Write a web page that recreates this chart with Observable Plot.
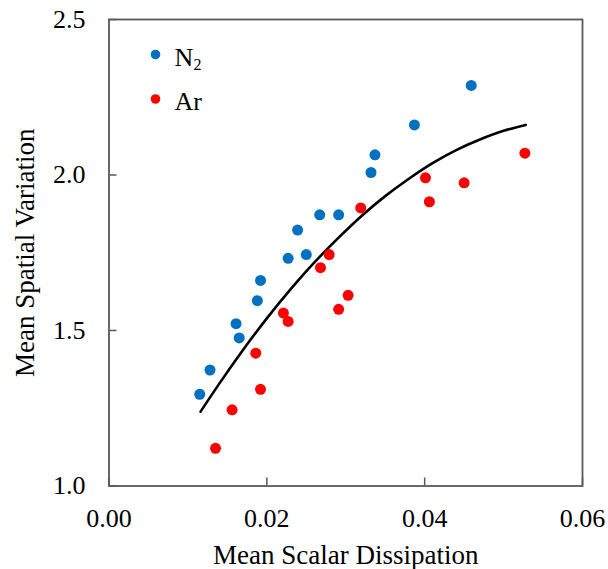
<!DOCTYPE html>
<html>
<head>
<meta charset="utf-8">
<script src="https://cdn.jsdelivr.net/npm/d3@7"></script>
<script src="https://cdn.jsdelivr.net/npm/@observablehq/plot@0.6"></script>
<style>
  html, body { margin: 0; padding: 0; background: #fff; }
  svg text { font-family: "Liberation Serif", "Times New Roman", serif !important; }
</style>
</head>
<body>
<div id="chart"></div>
<script>
// ---- data ----
const seriesNames = ["N2", "Ar"];
const seriesColors = ["#0070C0", "#FF0000"];

const n2X = [0.0115, 0.0128, 0.0161, 0.0165, 0.0188, 0.0192, 0.0227, 0.0239, 0.0250, 0.0267, 0.0291, 0.0332, 0.0337, 0.0387, 0.0459];
const n2Y = [1.295, 1.373, 1.522, 1.476, 1.596, 1.661, 1.732, 1.823, 1.744, 1.872, 1.872, 2.008, 2.065, 2.161, 2.288];

const arX = [0.0135, 0.0156, 0.0186, 0.0192, 0.0221, 0.0227, 0.0268, 0.0279, 0.0291, 0.0303, 0.0319, 0.0401, 0.0406, 0.0450, 0.0527];
const arY = [1.121, 1.245, 1.427, 1.311, 1.556, 1.529, 1.702, 1.744, 1.568, 1.613, 1.894, 1.991, 1.914, 1.975, 2.070];

// trend curve
const curveX = [0.0116, 0.014, 0.017, 0.020, 0.023, 0.026, 0.029, 0.032, 0.035, 0.038, 0.041, 0.044, 0.047, 0.050, 0.0528];
const curveY = [1.239, 1.330, 1.438, 1.539, 1.632, 1.718, 1.796, 1.868, 1.932, 1.988, 2.038, 2.080, 2.114, 2.142, 2.161];

const xTicks = [0, 0.02, 0.04, 0.06];
const yTicks = [1.0, 1.5, 2.0, 2.5];

// ---- tables ----
const points = [
  ...n2X.map((x, i) => ({series: "N2", x, y: n2Y[i]})),
  ...arX.map((x, i) => ({series: "Ar", x, y: arY[i]}))
];
const curve = curveX.map((x, i) => ({x, y: curveY[i]}));

const W = 608, H = 569;
const mL = 108.5, mR = 26, mT = 19, mB = 83.5;
const plotW = W - mL - mR, plotH = H - mT - mB;
const font = "'Liberation Serif', 'Times New Roman', serif";

const legendMarks = seriesNames.flatMap((name, i) => {
  const dy = 35 + i * 44.5;
  const marks = [
    Plot.dot([name], {frameAnchor: "top-left", dx: 46.5, dy, r: 4.8, fill: seriesColors[i], stroke: null})
  ];
  const main = name === "N2" ? "N" : name;
  marks.push(Plot.text([main], {frameAnchor: "top-left", dx: 65.5, dy: dy + 11, text: d => d,
    textAnchor: "start", lineAnchor: "bottom", fontSize: 26, fontFamily: font, fill: "#000"}));
  if (name === "N2") {
    marks.push(Plot.text(["2"], {frameAnchor: "top-left", dx: 84.5, dy: dy + 15.5, text: d => d,
      textAnchor: "start", lineAnchor: "bottom", fontSize: 16, fontFamily: font, fill: "#000"}));
  }
  return marks;
});

const chart = Plot.plot({
  width: W,
  height: H,
  marginLeft: mL,
  marginRight: mR,
  marginTop: mT,
  marginBottom: mB,
  style: {fontFamily: font, fontSize: "26px", background: "#fff", color: "#000"},
  x: {domain: [0, 0.06]},
  y: {domain: [1.0, 2.5]},
  color: {domain: seriesNames, range: seriesColors},
  marks: [
    Plot.axisX(xTicks, {tickSize: 0, tickPadding: 23, tickFormat: d3.format(".2f"), fontSize: 26, fontFamily: font, label: null}),
    Plot.axisY(yTicks, {tickSize: 0, tickPadding: 23.5, tickFormat: d3.format(".1f"), fontSize: 26, fontFamily: font, label: null}),
    Plot.tickX(xTicks, {x: d => d, insetTop: plotH - 8, stroke: "#595959", strokeWidth: 1.5}),
    Plot.tickY(yTicks, {y: d => d, insetRight: plotW - 8, stroke: "#595959", strokeWidth: 1.5}),
    Plot.frame({stroke: "#595959", strokeWidth: 1.8}),
    Plot.line(curve, {x: "x", y: "y", curve: "natural", stroke: "#000", strokeWidth: 2.6}),
    Plot.dot(points, {x: "x", y: "y", fill: "series", r: 5.5, stroke: null}),
    ...legendMarks,
    Plot.text(["Mean Spatial Variation"], {frameAnchor: "left", dx: -84, rotate: -90, text: d => d,
      textAnchor: "middle", lineAnchor: "middle", fontSize: 27, fontFamily: font, fill: "#000"}),
    Plot.text(["Mean Scalar Dissipation"], {frameAnchor: "bottom", dy: 77.5, text: d => d,
      textAnchor: "middle", lineAnchor: "bottom", fontSize: 27, fontFamily: font, fill: "#000"})
  ]
});

document.getElementById("chart").appendChild(chart);
</script>
</body>
</html>
